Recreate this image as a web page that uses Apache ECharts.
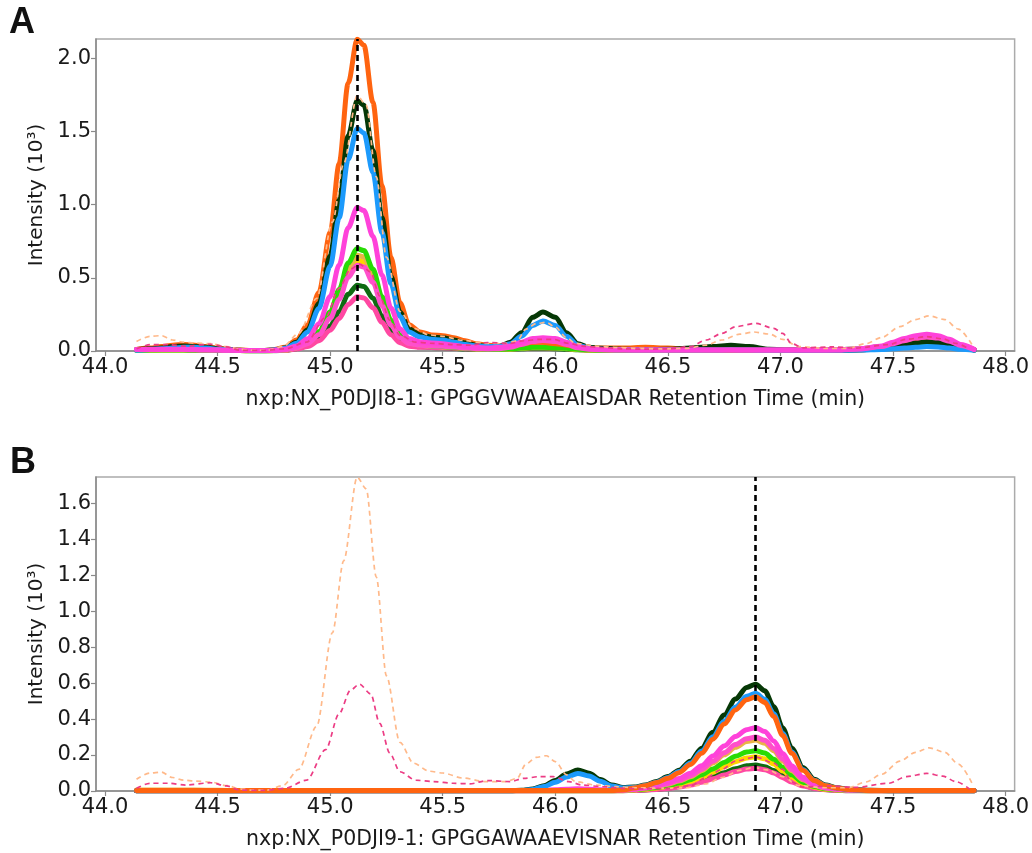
<!DOCTYPE html>
<html>
<head>
<meta charset="utf-8">
<title>Chromatogram comparison</title>
<script src="https://cdn.jsdelivr.net/npm/echarts@6/dist/echarts.min.js"></script>
<style>
  html, body { margin: 0; padding: 0; background: #ffffff; }
  #chart { width: 1032px; height: 853px; }
</style>
</head>
<body>
<div id="chart"></div>
<script>
// ---- Tick labels ----
const xTicks = [44.0, 44.5, 45.0, 45.5, 46.0, 46.5, 47.0, 47.5, 48.0];
const yTicksA = [0.0, 0.5, 1.0, 1.5, 2.0];
const yTicksB = [0.0, 0.2, 0.4, 0.6, 0.8, 1.0, 1.2, 1.4, 1.6];

// ---- Axis titles ----
const xTitleA = 'nxp:NX_P0DJI8-1: GPGGVWAAEAISDAR Retention Time (min)';
const xTitleB = 'nxp:NX_P0DJI9-1: GPGGAWAAEVISNAR Retention Time (min)';
const yTitle = 'Intensity (10³)';

// ---- Peak apex markers (min) ----
const apexA = 45.12;
const apexB = 46.89;

// ---- Panel A: retention times (min) and replicate intensities (10^3) ----
const timesA = [
  44.14, 44.20, 44.25, 44.30, 44.35, 44.40, 44.45, 44.50, 44.55, 44.60,
  44.65, 44.70, 44.75, 44.80, 44.85, 44.90, 44.95, 45.00, 45.04, 45.08,
  45.12, 45.15, 45.19, 45.23, 45.27, 45.31, 45.35, 45.40, 45.45, 45.50,
  45.55, 45.60, 45.65, 45.70, 45.75, 45.80, 45.85, 45.90, 45.945, 46.00,
  46.05, 46.10, 46.15, 46.20, 46.30, 46.40, 46.50, 46.60, 46.70, 46.78,
  46.86, 46.95, 47.05, 47.15, 47.25, 47.35, 47.45, 47.50, 47.55, 47.60,
  47.65, 47.70, 47.75, 47.80, 47.86
];
const orangeA = [
  0.010, 0.020, 0.030, 0.040, 0.045, 0.040, 0.030, 0.020, 0.012, 0.006,
  0.003, 0.003, 0.009, 0.026, 0.075, 0.18, 0.40, 0.81, 1.28, 1.83,
  2.13, 2.09, 1.70, 1.13, 0.64, 0.33, 0.18, 0.13, 0.11, 0.105,
  0.09, 0.07, 0.05, 0.04, 0.035, 0.04, 0.05, 0.06, 0.06, 0.05,
  0.04, 0.03, 0.025, 0.02, 0.02, 0.025, 0.02, 0.012, 0.008, 0.006,
  0.005, 0.005, 0.005, 0.005, 0.005, 0.008, 0.02, 0.04, 0.06, 0.08,
  0.09, 0.085, 0.06, 0.035, 0.01
];
const darkGreenA = [
  0.010, 0.015, 0.020, 0.030, 0.035, 0.030, 0.025, 0.015, 0.010, 0.005,
  0.003, 0.003, 0.007, 0.02, 0.06, 0.145, 0.325, 0.65, 1.03, 1.47,
  1.71, 1.68, 1.37, 0.91, 0.51, 0.265, 0.15, 0.11, 0.095, 0.09,
  0.075, 0.055, 0.04, 0.03, 0.03, 0.06, 0.125, 0.23, 0.266, 0.23,
  0.125, 0.05, 0.025, 0.018, 0.012, 0.01, 0.012, 0.02, 0.03, 0.04,
  0.03, 0.012, 0.006, 0.005, 0.005, 0.008, 0.015, 0.025, 0.04, 0.055,
  0.063, 0.058, 0.045, 0.025, 0.008
];
const blueA = [
  0.005, 0.010, 0.015, 0.020, 0.025, 0.025, 0.020, 0.012, 0.008, 0.004,
  0.002, 0.002, 0.006, 0.018, 0.053, 0.13, 0.29, 0.58, 0.91, 1.31,
  1.52, 1.49, 1.22, 0.81, 0.46, 0.235, 0.13, 0.095, 0.08, 0.075,
  0.06, 0.045, 0.035, 0.03, 0.03, 0.05, 0.10, 0.175, 0.205, 0.175,
  0.10, 0.04, 0.02, 0.012, 0.008, 0.006, 0.006, 0.006, 0.006, 0.008,
  0.006, 0.005, 0.005, 0.005, 0.005, 0.006, 0.01, 0.015, 0.02, 0.025,
  0.03, 0.028, 0.02, 0.012, 0.005
];
const magentaA = [
  0.010, 0.012, 0.012, 0.012, 0.012, 0.010, 0.008, 0.006, 0.005, 0.004,
  0.003, 0.003, 0.005, 0.012, 0.034, 0.083, 0.186, 0.372, 0.588, 0.843,
  0.98, 0.96, 0.784, 0.519, 0.294, 0.152, 0.085, 0.062, 0.055, 0.05,
  0.04, 0.03, 0.025, 0.02, 0.025, 0.035, 0.06, 0.085, 0.09, 0.085,
  0.06, 0.03, 0.015, 0.01, 0.008, 0.006, 0.006, 0.006, 0.006, 0.006,
  0.006, 0.006, 0.006, 0.006, 0.008, 0.015, 0.035, 0.06, 0.085, 0.105,
  0.114, 0.105, 0.08, 0.045, 0.012
];
const greenA = [
  0.005, 0.006, 0.006, 0.006, 0.006, 0.005, 0.005, 0.004, 0.003, 0.003,
  0.002, 0.002, 0.003, 0.008, 0.025, 0.06, 0.133, 0.266, 0.42, 0.602,
  0.70, 0.686, 0.56, 0.371, 0.21, 0.109, 0.06, 0.042, 0.035, 0.03,
  0.025, 0.02, 0.015, 0.012, 0.012, 0.015, 0.02, 0.025, 0.025, 0.022,
  0.018, 0.012, 0.008, 0.005, 0.005, 0.005, 0.005, 0.005, 0.005, 0.005,
  0.005, 0.005, 0.005, 0.005, 0.008, 0.015, 0.03, 0.04, 0.05, 0.055,
  0.055, 0.05, 0.04, 0.025, 0.008
];
const goldA = [
  0.005, 0.006, 0.006, 0.006, 0.006, 0.005, 0.005, 0.004, 0.003, 0.003,
  0.002, 0.002, 0.003, 0.008, 0.023, 0.056, 0.124, 0.249, 0.393, 0.563,
  0.655, 0.642, 0.524, 0.347, 0.197, 0.102, 0.056, 0.04, 0.033, 0.028,
  0.022, 0.018, 0.014, 0.012, 0.012, 0.014, 0.018, 0.022, 0.022, 0.02,
  0.016, 0.01, 0.007, 0.005, 0.005, 0.005, 0.005, 0.005, 0.005, 0.005,
  0.005, 0.005, 0.005, 0.005, 0.006, 0.012, 0.025, 0.04, 0.055, 0.065,
  0.07, 0.065, 0.05, 0.03, 0.01
];
const yellowA = [
  0.005, 0.006, 0.006, 0.006, 0.006, 0.005, 0.005, 0.004, 0.003, 0.003,
  0.002, 0.002, 0.003, 0.007, 0.022, 0.053, 0.118, 0.236, 0.372, 0.533,
  0.62, 0.608, 0.496, 0.329, 0.186, 0.096, 0.055, 0.042, 0.037, 0.035,
  0.03, 0.022, 0.016, 0.012, 0.012, 0.014, 0.02, 0.025, 0.027, 0.025,
  0.018, 0.01, 0.007, 0.005, 0.005, 0.005, 0.005, 0.005, 0.005, 0.005,
  0.005, 0.005, 0.005, 0.005, 0.006, 0.012, 0.028, 0.045, 0.065, 0.078,
  0.082, 0.076, 0.058, 0.033, 0.01
];
const magenta2A = [
  0.010, 0.010, 0.010, 0.010, 0.010, 0.008, 0.007, 0.006, 0.005, 0.004,
  0.003, 0.003, 0.003, 0.007, 0.021, 0.05, 0.111, 0.223, 0.352, 0.504,
  0.586, 0.574, 0.469, 0.311, 0.176, 0.091, 0.052, 0.039, 0.034, 0.032,
  0.027, 0.02, 0.016, 0.014, 0.016, 0.025, 0.045, 0.065, 0.072, 0.065,
  0.045, 0.022, 0.012, 0.008, 0.006, 0.006, 0.006, 0.006, 0.006, 0.006,
  0.006, 0.006, 0.006, 0.006, 0.007, 0.014, 0.03, 0.05, 0.07, 0.088,
  0.095, 0.088, 0.067, 0.038, 0.01
];
const darkGreen2A = [
  0.005, 0.008, 0.010, 0.015, 0.018, 0.015, 0.012, 0.008, 0.005, 0.003,
  0.002, 0.002, 0.002, 0.005, 0.016, 0.038, 0.086, 0.171, 0.27, 0.387,
  0.45, 0.441, 0.36, 0.239, 0.135, 0.07, 0.04, 0.029, 0.024, 0.022,
  0.018, 0.014, 0.011, 0.01, 0.01, 0.012, 0.015, 0.018, 0.018, 0.016,
  0.012, 0.008, 0.005, 0.004, 0.004, 0.004, 0.004, 0.004, 0.004, 0.004,
  0.004, 0.004, 0.004, 0.004, 0.005, 0.008, 0.018, 0.03, 0.042, 0.05,
  0.052, 0.048, 0.036, 0.02, 0.006
];
const pinkA = [
  0.008, 0.010, 0.010, 0.010, 0.010, 0.008, 0.007, 0.006, 0.005, 0.004,
  0.003, 0.003, 0.003, 0.004, 0.013, 0.031, 0.07, 0.141, 0.222, 0.318,
  0.37, 0.363, 0.296, 0.196, 0.111, 0.057, 0.033, 0.026, 0.024, 0.022,
  0.02, 0.016, 0.014, 0.013, 0.015, 0.022, 0.035, 0.05, 0.055, 0.05,
  0.035, 0.018, 0.01, 0.007, 0.006, 0.006, 0.006, 0.006, 0.006, 0.006,
  0.006, 0.006, 0.006, 0.006, 0.006, 0.01, 0.022, 0.035, 0.05, 0.06,
  0.065, 0.06, 0.045, 0.026, 0.008
];

// ---- Panel B: retention times (min) and replicate intensities (10^3) ----
const timesB = [
  44.14, 44.20, 44.30, 44.40, 44.50, 44.60, 44.70, 44.80, 44.90, 45.00,
  45.10, 45.20, 45.30, 45.40, 45.50, 45.60, 45.70, 45.80, 45.85, 45.90,
  45.95, 46.00, 46.05, 46.10, 46.15, 46.20, 46.25, 46.30, 46.35, 46.40,
  46.45, 46.50, 46.55, 46.60, 46.65, 46.70, 46.75, 46.80, 46.85, 46.89,
  46.93, 46.97, 47.01, 47.05, 47.10, 47.15, 47.20, 47.25, 47.30, 47.40,
  47.50, 47.60, 47.70, 47.80, 47.86
];
const darkGreenB = [
  0.002, 0.002, 0.002, 0.002, 0.002, 0.002, 0.002, 0.002, 0.002, 0.002,
  0.002, 0.002, 0.002, 0.002, 0.002, 0.002, 0.002, 0.002, 0.004, 0.011,
  0.029, 0.059, 0.094, 0.117, 0.099, 0.064, 0.034, 0.019, 0.022, 0.033,
  0.053, 0.08, 0.116, 0.166, 0.238, 0.327, 0.422, 0.511, 0.576, 0.594,
  0.558, 0.469, 0.35, 0.238, 0.131, 0.065, 0.033, 0.018, 0.01, 0.004,
  0.002, 0.002, 0.002, 0.002, 0.002
];
const blueB = [
  0.002, 0.002, 0.002, 0.002, 0.002, 0.002, 0.002, 0.002, 0.002, 0.002,
  0.002, 0.002, 0.002, 0.002, 0.002, 0.002, 0.002, 0.002, 0.003, 0.009,
  0.025, 0.049, 0.078, 0.098, 0.083, 0.054, 0.028, 0.017, 0.019, 0.03,
  0.049, 0.075, 0.108, 0.155, 0.222, 0.302, 0.388, 0.467, 0.527, 0.543,
  0.51, 0.429, 0.32, 0.217, 0.119, 0.06, 0.03, 0.016, 0.009, 0.003,
  0.002, 0.002, 0.002, 0.002, 0.002
];
const orangeB = [
  0.003, 0.003, 0.003, 0.003, 0.003, 0.003, 0.003, 0.003, 0.003, 0.003,
  0.003, 0.003, 0.003, 0.003, 0.003, 0.003, 0.003, 0.003, 0.003, 0.003,
  0.003, 0.003, 0.003, 0.003, 0.003, 0.003, 0.003, 0.006, 0.016, 0.029,
  0.047, 0.071, 0.102, 0.147, 0.21, 0.288, 0.372, 0.451, 0.508, 0.524,
  0.493, 0.414, 0.309, 0.21, 0.115, 0.058, 0.029, 0.016, 0.009, 0.003,
  0.003, 0.003, 0.003, 0.003, 0.003
];
const magentaB = [
  0.002, 0.002, 0.002, 0.002, 0.002, 0.002, 0.002, 0.002, 0.002, 0.002,
  0.002, 0.002, 0.002, 0.002, 0.002, 0.002, 0.002, 0.002, 0.002, 0.002,
  0.004, 0.007, 0.01, 0.012, 0.01, 0.007, 0.005, 0.006, 0.011, 0.019,
  0.032, 0.048, 0.069, 0.099, 0.141, 0.194, 0.25, 0.303, 0.341, 0.352,
  0.331, 0.278, 0.208, 0.141, 0.077, 0.039, 0.019, 0.011, 0.006, 0.002,
  0.002, 0.002, 0.002, 0.002, 0.002
];
const magenta2B = [
  0.002, 0.002, 0.002, 0.002, 0.002, 0.002, 0.002, 0.002, 0.002, 0.002,
  0.002, 0.002, 0.002, 0.002, 0.002, 0.002, 0.002, 0.002, 0.002, 0.002,
  0.002, 0.002, 0.002, 0.002, 0.002, 0.002, 0.002, 0.004, 0.009, 0.017,
  0.027, 0.041, 0.059, 0.084, 0.12, 0.165, 0.213, 0.258, 0.291, 0.30,
  0.282, 0.237, 0.177, 0.12, 0.066, 0.033, 0.017, 0.009, 0.005, 0.002,
  0.002, 0.002, 0.002, 0.002, 0.002
];
const goldB = [
  0.005, 0.005, 0.005, 0.005, 0.004, 0.002, 0.002, 0.002, 0.002, 0.002,
  0.002, 0.002, 0.002, 0.002, 0.002, 0.002, 0.002, 0.002, 0.002, 0.002,
  0.002, 0.002, 0.002, 0.002, 0.002, 0.002, 0.002, 0.003, 0.008, 0.016,
  0.025, 0.038, 0.055, 0.079, 0.113, 0.156, 0.201, 0.243, 0.275, 0.283,
  0.266, 0.224, 0.167, 0.113, 0.062, 0.031, 0.016, 0.008, 0.005, 0.002,
  0.002, 0.002, 0.002, 0.002, 0.002
];
const greenB = [
  0.002, 0.002, 0.002, 0.002, 0.002, 0.002, 0.002, 0.002, 0.002, 0.002,
  0.002, 0.002, 0.002, 0.002, 0.002, 0.002, 0.002, 0.002, 0.002, 0.002,
  0.002, 0.002, 0.002, 0.002, 0.002, 0.002, 0.002, 0.003, 0.007, 0.012,
  0.02, 0.03, 0.044, 0.063, 0.09, 0.123, 0.159, 0.193, 0.217, 0.224,
  0.211, 0.177, 0.132, 0.09, 0.049, 0.025, 0.012, 0.007, 0.004, 0.002,
  0.002, 0.002, 0.002, 0.002, 0.002
];
const yellowB = [
  0.002, 0.002, 0.002, 0.002, 0.002, 0.002, 0.002, 0.002, 0.002, 0.002,
  0.002, 0.002, 0.002, 0.002, 0.002, 0.002, 0.002, 0.002, 0.002, 0.002,
  0.002, 0.002, 0.002, 0.002, 0.002, 0.002, 0.002, 0.002, 0.006, 0.01,
  0.017, 0.026, 0.037, 0.053, 0.076, 0.105, 0.135, 0.163, 0.184, 0.19,
  0.179, 0.15, 0.112, 0.076, 0.042, 0.021, 0.01, 0.006, 0.003, 0.002,
  0.002, 0.002, 0.002, 0.002, 0.002
];
const darkGreen2B = [
  0.002, 0.002, 0.002, 0.002, 0.002, 0.002, 0.002, 0.002, 0.002, 0.002,
  0.002, 0.002, 0.002, 0.002, 0.002, 0.002, 0.002, 0.002, 0.002, 0.002,
  0.002, 0.002, 0.002, 0.002, 0.002, 0.002, 0.002, 0.002, 0.003, 0.006,
  0.01, 0.016, 0.025, 0.038, 0.056, 0.078, 0.102, 0.124, 0.14, 0.144,
  0.135, 0.114, 0.085, 0.058, 0.032, 0.016, 0.008, 0.004, 0.002, 0.002,
  0.002, 0.002, 0.002, 0.002, 0.002
];
const pinkB = [
  0.002, 0.002, 0.002, 0.002, 0.002, 0.002, 0.002, 0.002, 0.002, 0.002,
  0.002, 0.002, 0.002, 0.002, 0.002, 0.002, 0.002, 0.002, 0.002, 0.002,
  0.002, 0.002, 0.002, 0.002, 0.002, 0.002, 0.002, 0.002, 0.003, 0.005,
  0.009, 0.014, 0.022, 0.033, 0.049, 0.068, 0.089, 0.108, 0.122, 0.126,
  0.118, 0.1, 0.074, 0.05, 0.028, 0.014, 0.007, 0.004, 0.002, 0.002,
  0.002, 0.002, 0.002, 0.002, 0.002
];

// ---- Reference traces (dashed), shared by both panels ----
const refHighTimes = [
  44.14, 44.20, 44.25, 44.30, 44.35, 44.40, 44.47, 44.54, 44.60, 44.65,
  44.72, 44.79, 44.86, 44.94, 45.01, 45.06, 45.12, 45.16, 45.205, 45.25,
  45.31, 45.37, 45.44, 45.50, 45.59, 45.69, 45.78, 45.83, 45.87, 45.915,
  45.96, 46.00, 46.05, 46.09, 46.18, 46.27, 46.36, 46.48, 46.58, 46.67,
  46.74, 46.82, 46.88, 46.95, 47.01, 47.08, 47.20, 47.30, 47.38, 47.45,
  47.53, 47.60, 47.66, 47.73, 47.79, 47.85
];
const refHigh = [
  0.065, 0.10, 0.105, 0.075, 0.06, 0.055, 0.05, 0.03, 0.012, 0.005,
  0.005, 0.03, 0.12, 0.36, 0.88, 1.28, 1.745, 1.68, 1.19, 0.64,
  0.27, 0.155, 0.11, 0.10, 0.072, 0.052, 0.052, 0.07, 0.15, 0.187,
  0.196, 0.163, 0.09, 0.052, 0.033, 0.024, 0.018, 0.015, 0.018, 0.04,
  0.075, 0.115, 0.13, 0.116, 0.08, 0.03, 0.018, 0.018, 0.05, 0.093,
  0.166, 0.215, 0.24, 0.215, 0.15, 0.045
];
const refLowTimes = [
  44.14, 44.20, 44.28, 44.36, 44.47, 44.54, 44.60, 44.70, 44.80, 44.895,
  44.98, 45.04, 45.09, 45.13, 45.18, 45.22, 45.265, 45.31, 45.38, 45.46,
  45.545, 45.62, 45.70, 45.80, 45.86, 45.93, 45.99, 46.06, 46.12, 46.21,
  46.30, 46.40, 46.50, 46.60, 46.67, 46.74, 46.80, 46.89, 46.97, 47.01,
  47.05, 47.10, 47.23, 47.33, 47.48, 47.56, 47.65, 47.72, 47.78, 47.84
];
const refLow = [
  0.015, 0.043, 0.043, 0.033, 0.046, 0.028, 0.005, 0.003, 0.015, 0.06,
  0.23, 0.43, 0.56, 0.594, 0.54, 0.376, 0.21, 0.107, 0.06, 0.052,
  0.043, 0.04, 0.058, 0.052, 0.07, 0.08, 0.08, 0.052, 0.033, 0.024,
  0.015, 0.012, 0.015, 0.03, 0.075, 0.12, 0.166, 0.189, 0.155, 0.12,
  0.05, 0.022, 0.028, 0.02, 0.043, 0.08, 0.098, 0.083, 0.052, 0.01
];

// ---- Replicate colours ----
const colors = {
  orange: '#FF6410',
  darkGreen: '#063806',
  blue: '#1C9AFC',
  magenta: '#FF42DA',
  green: '#28DC05',
  gold: '#E9B447',
  yellow: '#FFD500',
  magenta2: '#FF4FCB',
  darkGreen2: '#0F6B12',
  pink: '#FF48A2',
  refHigh: '#FFB98A',
  refLow: '#EC3C84'
};

const FONT = 'DejaVu Sans';
const TEXT = '#1a1a1a';

function pairs(times, values) {
  return times.map((t, i) => [t, values[i]]);
}

function trace(times, values, color, panel) {
  return {
    type: 'line',
    xAxisIndex: panel, yAxisIndex: panel,
    data: pairs(times, values),
    symbol: 'none', showSymbol: false,
    smooth: 0.3, smoothMonotone: 'x',
    lineStyle: { color: color, width: 5, cap: 'round', join: 'round' },
    itemStyle: { color: color },
    silent: true, animation: false, z: 2
  };
}

function refTrace(times, values, color, panel) {
  return {
    type: 'line',
    xAxisIndex: panel, yAxisIndex: panel,
    data: pairs(times, values),
    symbol: 'none', showSymbol: false,
    smooth: 0.3, smoothMonotone: 'x',
    lineStyle: { color: color, width: 1.7, type: [5, 4] },
    itemStyle: { color: color },
    silent: true, animation: false, z: 3
  };
}

function apexLine(x, panel) {
  return {
    type: 'line',
    xAxisIndex: panel, yAxisIndex: panel,
    data: [],
    silent: true, animation: false, z: 5,
    markLine: {
      silent: true, symbol: 'none', animation: false,
      label: { show: false },
      lineStyle: { color: '#000000', width: 2.6, type: [6, 4] },
      data: [{ xAxis: x }]
    }
  };
}

function xAxisFor(panel, title) {
  return {
    gridIndex: panel, type: 'value', min: 43.96, max: 48.04,
    name: title, nameLocation: 'middle', nameGap: 38,
    nameTextStyle: { fontFamily: FONT, fontSize: 20.5, color: TEXT },
    axisLine: { show: true, onZero: false, lineStyle: { color: '#8a8a8a', width: 1.5 } },
    axisTick: { show: true, customValues: xTicks, length: 5, lineStyle: { color: '#8a8a8a', width: 1.2 } },
    axisLabel: { customValues: xTicks, formatter: v => v.toFixed(1), fontFamily: FONT, fontSize: 21, color: TEXT, margin: 6 },
    splitLine: { show: false }
  };
}

function yAxisFor(panel, max, ticks) {
  return {
    gridIndex: panel, type: 'value', min: 0, max: max,
    name: yTitle, nameLocation: 'middle', nameGap: 49,
    nameTextStyle: { fontFamily: FONT, fontSize: 20, color: TEXT },
    axisLine: { show: true, lineStyle: { color: '#8a8a8a', width: 1.5 } },
    axisTick: { show: true, customValues: ticks, length: 5, lineStyle: { color: '#8a8a8a', width: 1.2 } },
    axisLabel: { customValues: ticks, formatter: v => v.toFixed(1), fontFamily: FONT, fontSize: 21, color: TEXT, margin: 5 },
    splitLine: { show: false }
  };
}

const chart = echarts.init(document.getElementById('chart'), null, { renderer: 'canvas' });

chart.setOption({
  backgroundColor: '#ffffff',
  animation: false,
  title: [
    { text: 'A', left: 9, top: 5, padding: 0, textStyle: { fontFamily: 'Liberation Sans', fontSize: 36, fontWeight: 'bold', color: '#111' } },
    { text: 'B', left: 10, top: 445, padding: 0, textStyle: { fontFamily: 'Liberation Sans', fontSize: 36, fontWeight: 'bold', color: '#111' } }
  ],
  grid: [
    { left: 96, top: 39, width: 920, height: 312, show: true, borderColor: '#ababab', borderWidth: 1.5, backgroundColor: 'transparent' },
    { left: 96, top: 477, width: 920, height: 314, show: true, borderColor: '#ababab', borderWidth: 1.5, backgroundColor: 'transparent' }
  ],
  xAxis: [xAxisFor(0, xTitleA), xAxisFor(1, xTitleB)],
  yAxis: [yAxisFor(0, 2.132, yTicksA), yAxisFor(1, 1.746, yTicksB)],
  series: [
    // Panel A replicates
    trace(timesA, darkGreen2A, colors.darkGreen2, 0),
    trace(timesA, pinkA, colors.pink, 0),
    trace(timesA, yellowA, colors.yellow, 0),
    trace(timesA, goldA, colors.gold, 0),
    trace(timesA, greenA, colors.green, 0),
    trace(timesA, orangeA, colors.orange, 0),
    trace(timesA, darkGreenA, colors.darkGreen, 0),
    trace(timesA, blueA, colors.blue, 0),
    trace(timesA, magenta2A, colors.magenta2, 0),
    trace(timesA, magentaA, colors.magenta, 0),
    refTrace(refHighTimes, refHigh, colors.refHigh, 0),
    refTrace(refLowTimes, refLow, colors.refLow, 0),
    apexLine(apexA, 0),
    // Panel B replicates
    trace(timesB, darkGreen2B, colors.darkGreen2, 1),
    trace(timesB, pinkB, colors.pink, 1),
    trace(timesB, yellowB, colors.yellow, 1),
    trace(timesB, greenB, colors.green, 1),
    trace(timesB, goldB, colors.gold, 1),
    trace(timesB, magenta2B, colors.magenta2, 1),
    trace(timesB, magentaB, colors.magenta, 1),
    trace(timesB, darkGreenB, colors.darkGreen, 1),
    trace(timesB, blueB, colors.blue, 1),
    trace(timesB, orangeB, colors.orange, 1),
    refTrace(refHighTimes, refHigh, colors.refHigh, 1),
    refTrace(refLowTimes, refLow, colors.refLow, 1),
    apexLine(apexB, 1)
  ]
});
</script>
</body>
</html>
